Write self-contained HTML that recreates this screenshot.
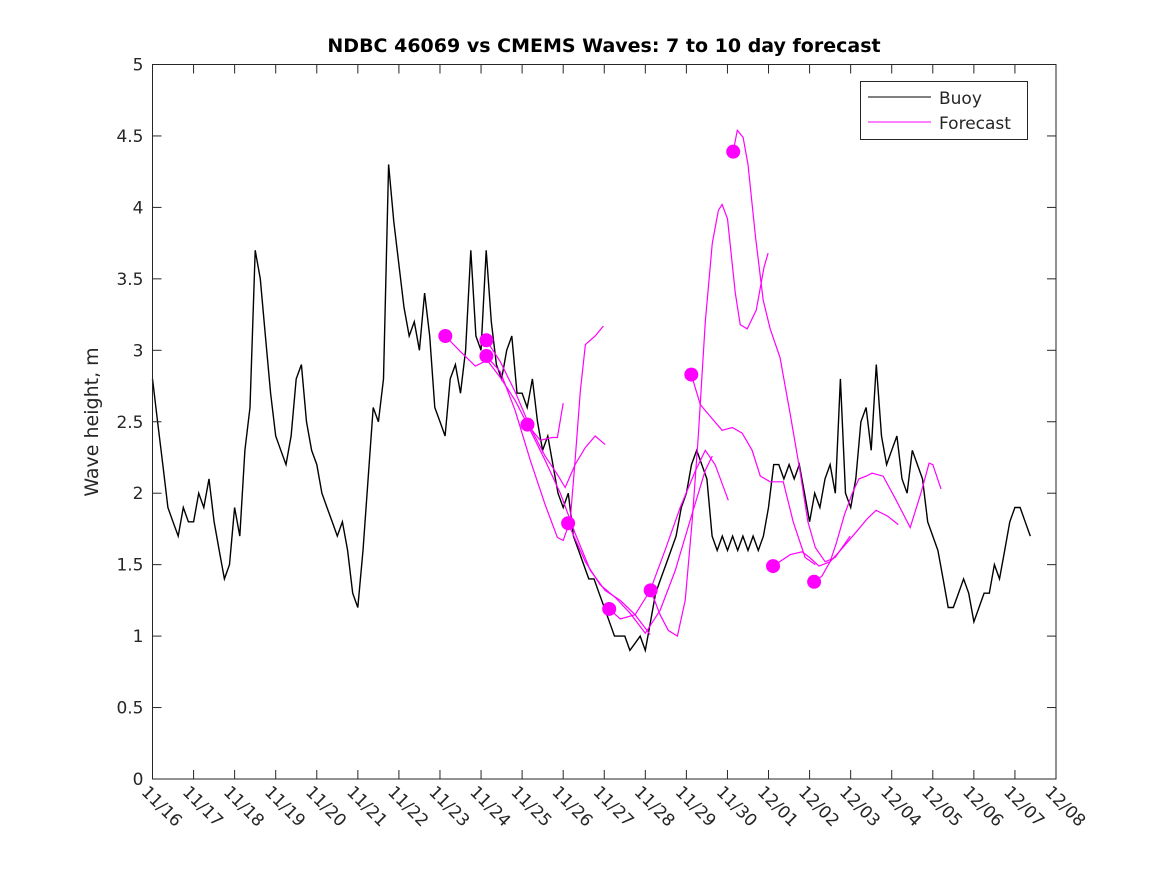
<!DOCTYPE html>
<html><head><meta charset="utf-8"><style>
body{margin:0;background:#fff;}
svg text{font-family:"DejaVu Sans","Liberation Sans",sans-serif;fill:#262626;}
</style></head><body>
<svg id="chart" width="1167" height="875" xmlns="http://www.w3.org/2000/svg">
<rect x="0" y="0" width="1167" height="875" fill="#fff"/>
<text x="604" y="52" text-anchor="middle" font-size="19" font-weight="bold" style="fill:#000">NDBC 46069 vs CMEMS Waves: 7 to 10 day forecast</text>
<text transform="translate(98,422) rotate(-90)" text-anchor="middle" font-size="19">Wave height, m</text>
<g id="series"></g>
<rect x="152.5" y="64.5" width="903.5" height="714.5" fill="none" stroke="#262626" stroke-width="1"/>
<g id="ticks"></g>
<g>
<rect x="860.5" y="81.5" width="167" height="58" fill="#fff" stroke="#262626"/>
<line x1="868" y1="97" x2="931" y2="97" stroke="#000"/>
<text x="939" y="104" font-size="17">Buoy</text>
<line x1="868" y1="122" x2="931" y2="122" stroke="#ff00ff"/>
<text x="939" y="129" font-size="17">Forecast</text>
</g>
</svg>
<script>
const xTickLabels=["11/16","11/17","11/18","11/19","11/20","11/21","11/22","11/23","11/24","11/25","11/26","11/27","11/28","11/29","11/30","12/01","12/02","12/03","12/04","12/05","12/06","12/07","12/08"];
const yTicks=[0,0.5,1,1.5,2,2.5,3,3.5,4,4.5,5];
const yTickLabels=["0","0.5","1","1.5","2","2.5","3","3.5","4","4.5","5"];
const buoyStep=0.125;
const buoyValues=[
2.8,2.5,2.2,1.9,1.8,1.7,1.9,1.8,
1.8,2.0,1.9,2.1,1.8,1.6,1.4,1.5,
1.9,1.7,2.3,2.6,3.7,3.5,3.1,2.7,
2.4,2.3,2.2,2.4,2.8,2.9,2.5,2.3,
2.2,2.0,1.9,1.8,1.7,1.8,1.6,1.3,
1.2,1.6,2.1,2.6,2.5,2.8,4.3,3.9,
3.6,3.3,3.1,3.2,3.0,3.4,3.1,2.6,
2.5,2.4,2.8,2.9,2.7,3.0,3.7,3.1,
3.0,3.7,3.2,2.9,2.8,3.0,3.1,2.7,
2.7,2.6,2.8,2.5,2.3,2.4,2.2,2.0,
1.9,2.0,1.7,1.6,1.5,1.4,1.4,1.3,
1.2,1.1,1.0,1.0,1.0,0.9,0.95,1.0,
0.9,1.1,1.3,1.4,1.5,1.6,1.7,1.9,
2.0,2.2,2.3,2.2,2.1,1.7,1.6,1.7,
1.6,1.7,1.6,1.7,1.6,1.7,1.6,1.7,
1.9,2.2,2.2,2.1,2.2,2.1,2.2,2.0,
1.8,2.0,1.9,2.1,2.2,2.0,2.8,2.0,
1.9,2.1,2.5,2.6,2.3,2.9,2.4,2.2,
2.3,2.4,2.1,2.0,2.3,2.2,2.1,1.8,
1.7,1.6,1.4,1.2,1.2,1.3,1.4,1.3,
1.1,1.2,1.3,1.3,1.5,1.4,1.6,1.8,
1.9,1.9,1.8,1.7];
const fA_d=[7.13,7.50,7.86,8.15,8.47,8.83,9.13,9.44,9.73,9.86,10.00];
const fA_v=[3.10,2.99,2.89,2.93,2.81,2.65,2.48,2.37,2.39,2.39,2.63];
const fB_d=[8.13,8.47,8.83,9.20,9.56,9.86,10.05,10.29,10.54,10.78,11.02];
const fB_v=[3.07,2.92,2.71,2.46,2.26,2.13,2.04,2.20,2.32,2.40,2.34];
const fC_d=[8.13,8.47,8.83,9.20,9.56,9.86,10.00,10.17,10.29,10.42,10.54,10.78,10.98];
const fC_v=[2.96,2.85,2.58,2.23,1.92,1.69,1.67,1.81,2.23,2.72,3.04,3.10,3.17];
const fD_d=[9.13,9.56,9.93,10.29,10.66,11.02,11.39,11.75,12.12];
const fD_v=[2.48,2.23,2.00,1.72,1.46,1.32,1.25,1.15,1.01];
const fE_d=[10.12,10.54,10.90,11.27,11.63,12.00,12.36,12.73,13.09,13.46,13.63];
const fE_v=[1.79,1.52,1.36,1.27,1.16,1.02,1.18,1.46,1.81,2.16,2.26];
const fF_d=[11.12,11.39,11.75,12.12,12.48,12.85,13.21,13.46,13.70,14.02];
const fF_v=[1.19,1.12,1.15,1.32,1.60,1.90,2.15,2.30,2.20,1.95];
const fG_d=[12.13,12.36,12.56,12.78,12.97,13.14,13.29,13.46,13.63,13.78,13.87,14.00,14.19,14.31,14.48,14.70,14.89,14.99];
const fG_v=[1.32,1.15,1.04,1.00,1.25,1.80,2.40,3.20,3.75,3.98,4.02,3.92,3.40,3.18,3.15,3.28,3.58,3.68];
const fH_d=[13.12,13.34,13.63,13.87,14.12,14.36,14.60,14.80,15.04,15.36,15.60,15.89,16.14];
const fH_v=[2.83,2.62,2.52,2.44,2.46,2.42,2.30,2.12,2.08,2.08,1.80,1.55,1.50];
const fI_d=[14.14,14.24,14.38,14.50,14.68,14.87,15.04,15.28,15.53,15.77,15.96,16.14,16.38,16.62,16.99];
const fI_v=[4.39,4.54,4.49,4.30,3.80,3.35,3.15,2.95,2.55,2.15,1.80,1.62,1.52,1.55,1.70];
const fJ_d=[15.11,15.53,15.82,16.00,16.23,16.50,16.75,17.11,17.40,17.62,17.90,18.16];
const fJ_v=[1.49,1.57,1.59,1.55,1.49,1.52,1.60,1.72,1.82,1.88,1.84,1.78];
const fK_d=[16.11,16.30,16.50,16.65,16.85,17.04,17.20,17.38,17.52,17.79,18.11,18.45,18.71,18.91,19.00,19.20];
const fK_v=[1.38,1.42,1.52,1.65,1.85,2.00,2.10,2.12,2.14,2.12,1.95,1.76,2.00,2.21,2.20,2.03];
const startDays=[7.13,8.13,8.13,9.13,10.12,11.12,12.13,13.12,14.14,15.11,16.11];
const startValues=[3.10,3.07,2.96,2.48,1.79,1.19,1.32,2.83,4.39,1.49,1.38];

const NS="http://www.w3.org/2000/svg";
const X0=152.5,X1=1056,Y0=779,Y1=64.5;
const xScale=d=>X0+(X1-X0)*d/22;
const yScale=v=>Y0-(Y0-Y1)*v/5;
function mk(tag,attrs,parent){const e=document.createElementNS(NS,tag);for(const k in attrs)e.setAttribute(k,attrs[k]);parent.appendChild(e);return e;}
const ticks=document.getElementById('ticks');
xTickLabels.forEach((lab,i)=>{
  const x=xScale(i);
  const t1=mk('line',{x1:x,y1:Y0,x2:x,y2:Y0-9,stroke:'#262626'},ticks);
  
  
  const t2=mk('line',{x1:x,y1:Y1,x2:x,y2:Y1+9,stroke:'#262626'},ticks);
  
  
  const tx=mk('text',{x:0,y:0,'font-size':17,transform:`translate(${x-12},${Y0+14}) rotate(45)`},ticks);
  tx.textContent=lab;
  
  
});
yTicks.forEach((v,i)=>{
  const y=yScale(v);
  const t1=mk('line',{x1:X0,y1:y,x2:X0+9,y2:y,stroke:'#262626'},ticks);
  
  
  const t2=mk('line',{x1:X1,y1:y,x2:X1-9,y2:y,stroke:'#262626'},ticks);
  
  
  const tx=mk('text',{x:X0-9,y:y+6,'text-anchor':'end','font-size':17},ticks);
  tx.textContent=yTickLabels[i];
  
  
});
const series=document.getElementById('series');
const bp=buoyValues.map((v,i)=>xScale(i*buoyStep).toFixed(1)+','+yScale(v).toFixed(1)).join(' ');
const buoy=mk('polyline',{points:bp,fill:'none',stroke:'#000','stroke-width':1.4},series);


const fcs=[[fA_d,fA_v],[fB_d,fB_v],[fC_d,fC_v],[fD_d,fD_v],[fE_d,fE_v],[fF_d,fF_v],[fG_d,fG_v],[fH_d,fH_v],[fI_d,fI_v],[fJ_d,fJ_v],[fK_d,fK_v]];
fcs.forEach(([ds,vs])=>{
  const p=ds.map((d,i)=>xScale(d).toFixed(1)+','+yScale(vs[i]).toFixed(1)).join(' ');
  const pl=mk('polyline',{points:p,fill:'none',stroke:'#ff00ff','stroke-width':1.2},series);
  
  
});
startDays.forEach((d,i)=>{
  const c=mk('circle',{cx:xScale(d),cy:yScale(startValues[i]),r:7,fill:'#ff00ff'},series);
  
  
});
</script>
</body></html>
